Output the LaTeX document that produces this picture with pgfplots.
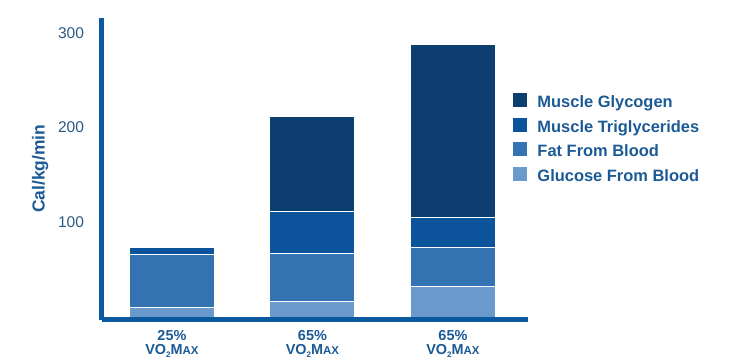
\documentclass[border=0pt]{standalone}
\usepackage{fontspec}
\setmainfont{Liberation Sans}
\usepackage{pgfplots}
\pgfplotsset{compat=1.18}
\definecolor{cGly}{HTML}{0C3E6F}
\definecolor{cTri}{HTML}{0B539B}
\definecolor{cFat}{HTML}{3373B2}
\definecolor{cGlu}{HTML}{6A9ACB}
\definecolor{cAxis}{HTML}{0B5AA0}
\definecolor{cTick}{HTML}{2B5A87}
\definecolor{cText}{HTML}{1B5A95}
\newcommand{\vomax}{VO\raisebox{-0.2em}{\fontsize{8}{8}\selectfont 2}M{\fontsize{11.5}{11.5}\selectfont AX}}
\begin{document}
\begin{tikzpicture}
\useasboundingbox (-101.7bp,-40.5bp) rectangle (641.3bp,319.5bp);
\begin{axis}[
  at={(0,0)}, anchor=south west,
  scale only axis, width=426bp, height=301.5bp,
  ybar stacked, bar width=0.605,
  xmin=-0.5, xmax=2.532,
  ymin=-2.6, ymax=315.7,
  axis x line=bottom, axis y line=left,
  axis line style={cAxis, line width=4.8bp, -},
  xtick={0,1,2},
  xticklabels={{25\%\\[1.5bp]\vomax},{65\%\\[1.5bp]\vomax},{65\%\\[1.5bp]\vomax}},
  xticklabel style={align=center, font=\fontsize{14.5}{12.5}\selectfont\bfseries, text=cText, inner sep=0pt, anchor=north, yshift=-11bp},
  ytick={100,200,300},
  /pgf/number format/assume math mode=true,
  yticklabel style={font=\fontsize{15.6}{16}\selectfont, text=cTick, inner sep=0pt, anchor=east, xshift=-17.5bp},
  major tick length=0pt,
  tick style={draw=none},
  ylabel={Cal/kg/min},
  ylabel style={at={(axis description cs:-0.1444,0.5)}, anchor=center, font=\fontsize{17.5}{17.5}\selectfont\bfseries, text=cText},
  legend style={draw=none, fill=none, at={(rel axis cs:0.958,0.758)}, anchor=north west,
    font=\fontsize{16.5}{16.5}\selectfont\bfseries, text=cText,
    nodes={anchor=west, inner sep=0pt, text height=11bp, text depth=3.5bp},
    row sep=6.2bp},
  legend cell align=left,
  reverse legend,
  legend image code/.code={\fill[#1,draw=none] (0bp,-3bp) rectangle (14bp,11bp); \path (24bp,0bp);},
  axis on top,
]
\addplot[fill=cGlu, draw=white, line width=1bp] coordinates {(0,10.2) (1,16.2) (2,32)};
\addplot[fill=cFat, draw=white, line width=1bp] coordinates {(0,56.3) (1,51.1) (2,41.6)};
\addplot[fill=cTri, draw=white, line width=1bp] coordinates {(0,7.1) (1,44.6) (2,31.7)};
\addplot[fill=cGly, draw=white, line width=1bp] coordinates {(0,0) (1,100.3) (2,181.9)};
\legend{Glucose From Blood, Fat From Blood, Muscle Triglycerides, Muscle Glycogen}
\end{axis}
\end{tikzpicture}
\end{document}
